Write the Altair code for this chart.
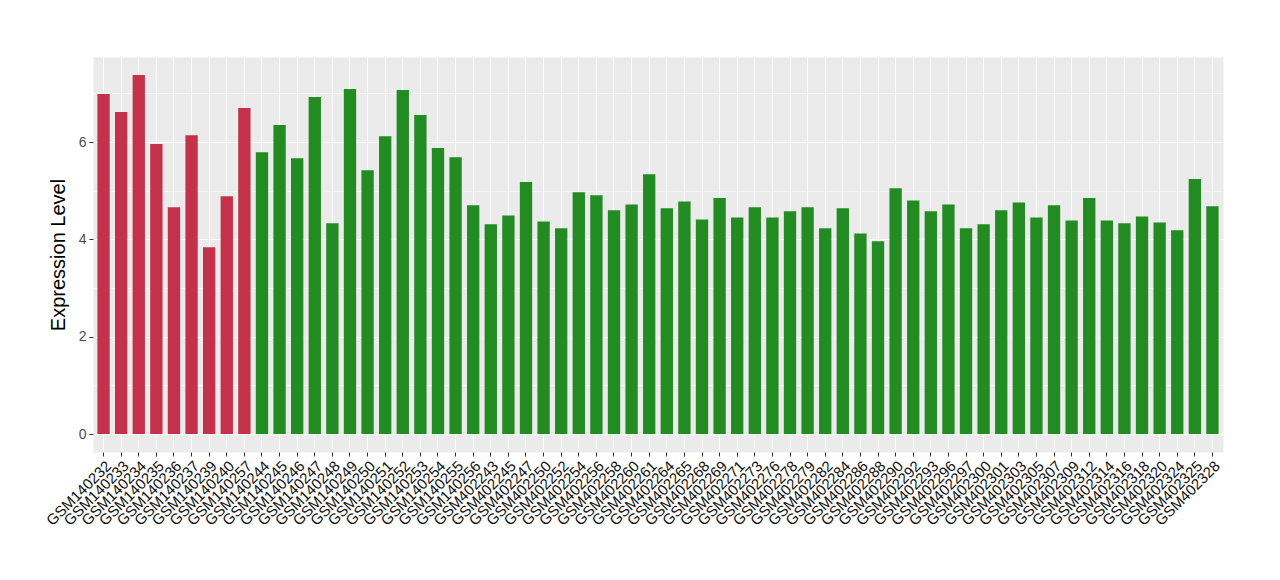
import altair as alt
import pandas as pd

samples = [
    "GSM140232", "GSM140233", "GSM140234", "GSM140235", "GSM140236", "GSM140237",
    "GSM140239", "GSM140240", "GSM140257",
    "GSM140244", "GSM140245", "GSM140246", "GSM140247", "GSM140248", "GSM140249",
    "GSM140250", "GSM140251", "GSM140252", "GSM140253", "GSM140254", "GSM140255",
    "GSM140256",
    "GSM402243", "GSM402245", "GSM402247", "GSM402250", "GSM402252", "GSM402254",
    "GSM402256", "GSM402258", "GSM402260", "GSM402261", "GSM402264", "GSM402265",
    "GSM402268", "GSM402269", "GSM402271", "GSM402273", "GSM402276", "GSM402278",
    "GSM402279", "GSM402282", "GSM402284", "GSM402286", "GSM402288", "GSM402290",
    "GSM402292", "GSM402293", "GSM402296", "GSM402297", "GSM402300", "GSM402301",
    "GSM402303", "GSM402305", "GSM402307", "GSM402309", "GSM402312", "GSM402314",
    "GSM402316", "GSM402318", "GSM402320", "GSM402324", "GSM402325", "GSM402328",
]

values = [
    6.99, 6.62, 7.38, 5.96, 4.66, 6.14, 3.84, 4.89, 6.70,
    5.79, 6.35, 5.67, 6.93, 4.33, 7.09, 5.42, 6.12, 7.07, 6.56, 5.88, 5.69, 4.70,
    4.31, 4.49, 5.18, 4.37, 4.23, 4.97, 4.91, 4.60, 4.72, 5.34, 4.64, 4.78,
    4.41, 4.85, 4.45, 4.66, 4.45, 4.58, 4.66, 4.23, 4.64, 4.12, 3.96, 5.05,
    4.80, 4.58, 4.72, 4.23, 4.31, 4.60, 4.76, 4.45, 4.70, 4.39, 4.85, 4.39,
    4.33, 4.47, 4.35, 4.19, 5.24, 4.68,
]

groups = ["A"] * 9 + ["B"] * (len(samples) - 9)
group_names = ["A", "B"]
group_colors = ["#C3314A", "#228B22"]

df = pd.DataFrame({"sample": samples, "value": values, "group": groups})

FONT = "Liberation Sans"

chart = (
    alt.Chart(df)
    .mark_bar()
    .encode(
        x=alt.X(
            "sample:N",
            sort=samples,
            scale=alt.Scale(paddingInner=0.3, paddingOuter=0.25),
            axis=alt.Axis(
                title=None,
                labelAngle=-45,
                labelAlign="right",
                labelBaseline="top",
                labelFontSize=15,
                labelColor="#111111",
                labelFont=FONT,
                labelPadding=2,
                tickSize=4,
                tickColor="#333333",
                tickWidth=1,
                domain=False,
                grid=True,
                gridColor="#FFFFFF",
                gridWidth=1.1,
                bandPosition=0.5,
                labelOverlap=False,
            ),
        ),
        y=alt.Y(
            "value:Q",
            scale=alt.Scale(domain=[-0.37, 7.75], nice=False, zero=False),
            axis=alt.Axis(
                title="Expression Level",
                titleFontSize=20,
                titleFont=FONT,
                titleFontWeight="normal",
                titleColor="#000000",
                titlePadding=10,
                values=[0, 1, 2, 3, 4, 5, 6, 7],
                labelExpr="datum.value % 2 === 1 ? '' : datum.label",
                labelFontSize=14,
                labelColor="#4D4D4D",
                labelFont=FONT,
                labelPadding=3,
                tickSize=4,
                tickColor={"condition": {"test": "datum.value % 2 === 1", "value": "transparent"}, "value": "#333333"},
                domain=False,
                grid=True,
                gridColor="#FFFFFF",
                gridWidth={"condition": {"test": "datum.value % 2 === 1", "value": 0.55}, "value": 1.1},
            ),
        ),
        color=alt.Color(
            "group:N",
            scale=alt.Scale(domain=group_names, range=group_colors),
            legend=None,
        ),
    )
    .properties(
        width=1130,
        height=395,
        padding={"left": 85, "top": 49, "right": 40, "bottom": 100},
        autosize=alt.AutoSizeParams(type="none"),
    )
    .configure(background="#FFFFFF")
    .configure_view(fill="#EBEBEB", stroke="transparent")
)

chart.save("out.html", embed_options={"renderer": "svg", "actions": False})
